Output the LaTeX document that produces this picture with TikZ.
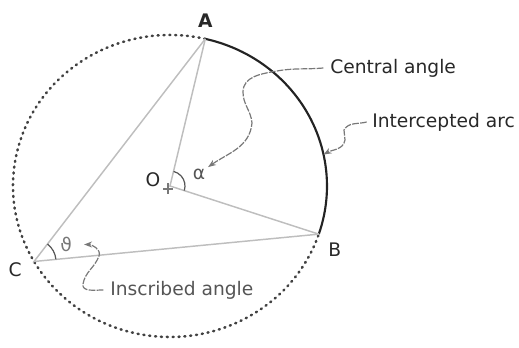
\documentclass[tikz,border=0pt]{standalone}
\usepackage{fontspec}
\setmainfont{DejaVu Sans}
\usepackage{tikz}
\usepackage{xcolor}
\usetikzlibrary{arrows.meta,calc,positioning}
\definecolor{dotgray}{RGB}{65,65,65}
\definecolor{arcdark}{RGB}{35,35,35}
\definecolor{chordgray}{RGB}{190,190,190}
\definecolor{leadgray}{RGB}{120,120,120}
\definecolor{txtdark}{RGB}{40,40,40}
\definecolor{txtgray}{RGB}{85,85,85}

\begin{document}
\begin{tikzpicture}[x=0.75pt,y=0.75pt,>=Stealth,
  chord/.style={chordgray,line width=1.1pt},
  dotline/.style={dotgray,line width=1.9pt,line cap=round,dash pattern=on 0.8pt off 3.6pt},
  leader/.style={leadgray,line width=0.9pt,dash pattern=on 5pt off 1pt,-{Stealth[length=6pt,width=4.5pt]}},
  callout/.style={anchor=west,inner sep=0pt,font=\fontsize{14}{16}\selectfont,text=txtdark},
  ptlabel/.style={inner sep=0pt,font=\fontsize{14}{16}\selectfont,text=txtdark}]
  \useasboundingbox (0,0) rectangle (519,348);
  \coordinate (O) at (170,162);
  \coordinate (A) at ($(O)+(77:157 and 151)$);
  \coordinate (B) at ($(O)+(-18.6:157 and 151)$);
  \coordinate (C) at ($(O)+(210:157 and 151)$);
  \coordinate (P) at ($(O)+(12:157 and 151)$);
  % circle and intercepted arc
  \draw[dotline] (A) arc[start angle=77,end angle=341.4,x radius=157,y radius=151];
  \draw[arcdark,line width=1.6pt] (B) arc[start angle=-18.6,end angle=77,x radius=157,y radius=151];
  \draw[chord] (A)--(O)--(B);
  \draw[chord] (A)--(C)--(B);
  % angle marks
  \draw[txtgray,line width=0.9pt] ($(O)+(-18:15)$) arc[start angle=-18,end angle=76,radius=15];
  \draw[txtgray,line width=0.9pt] ($(C)+(5.5:22)$) arc[start angle=5.5,end angle=52.4,radius=22];
  \draw[leadgray,line width=0.8pt] ($(O)+(-7,-3)$) -- ++(10,0);
  \draw[leadgray,line width=0.8pt] ($(O)+(-2,-8)$) -- ++(0,11);
  \node[ptlabel,font=\fontsize{14}{16}\selectfont\bfseries,above=8pt of A] (lblA) {A};
  \node[ptlabel,below right=6pt and 7pt of B] (lblB) {B};
  \node[ptlabel,below left=1pt and 9pt of C] (lblC) {C};
  \node[ptlabel,above left=-1pt and 7pt of O] (lblO) {O};
  \node[ptlabel,text=txtgray] (alpha) at ($(O)+(29,12)$) {α};
  \node[ptlabel,text=txtgray!80] (theta) at ($(C)+(32,17)$) {ϑ};
  % callouts
  \node[callout] (central) at (330,280) {Central angle};
  \node[callout] (intercept) at (372,226) {Intercepted arc};
  \node[callout,text=txtgray] (inscribed) at (110,58) {Inscribed angle};
  \draw[leader] ([xshift=-5pt]central.west) to[out=185,in=10] (277,277)
    to[out=190,in=90] (243,256) to[out=-90,in=95] (252,225)
    to[out=-95,in=35] ([xshift=2pt,yshift=1pt]alpha.north east);
  \draw[leader] ([xshift=-4pt]intercept.west) to[out=195,in=60] (344,218)
    to[out=-100,in=80] (345,208) to[out=-100,in=30] (P);
  \draw[leader] ([xshift=-5pt]inscribed.west) to[out=180,in=-100] (83,64)
    to[out=80,in=-110] (99,92) to[out=70,in=0] ([xshift=9pt]theta.east);
\end{tikzpicture}
\end{document}
